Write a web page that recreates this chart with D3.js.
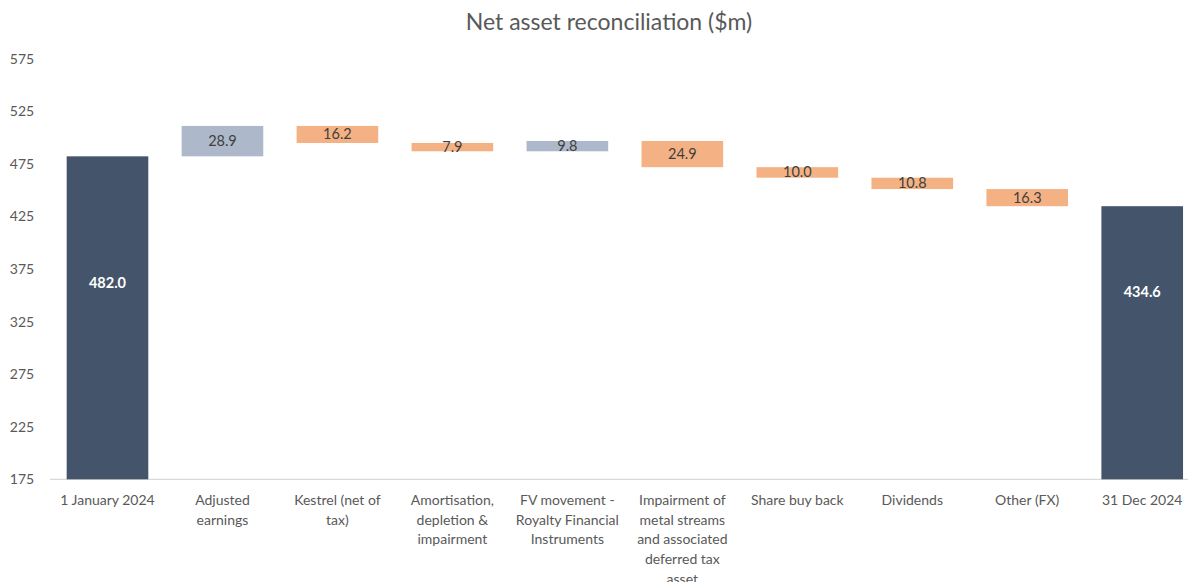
<!DOCTYPE html>
<html>
<head>
<meta charset="utf-8">
<script src="https://cdn.jsdelivr.net/npm/d3@7"></script>
<style>
  body { margin: 0; background: #fff; }
  svg { display: block; font-family: Lato, "Open Sans", sans-serif; }
</style>
</head>
<body>
<div id="chart"></div>
<script>
// waterfall steps: first and last are totals, the rest are changes
const categories = [
    ["1 January 2024"],
    ["Adjusted", "earnings"],
    ["Kestrel (net of", "tax)"],
    ["Amortisation,", "depletion &", "impairment"],
    ["FV movement -", "Royalty Financial", "Instruments"],
    ["Impairment of", "metal streams", "and associated", "deferred tax", "asset"],
    ["Share buy back"],
    ["Dividends"],
    ["Other (FX)"],
    ["31 Dec 2024"]
];
const values = [482.0, 28.9, -16.2, -7.9, 9.8, -24.9, -10.0, -10.8, -16.3, 434.6];
const kinds = ["total", "delta", "delta", "delta", "delta", "delta", "delta", "delta", "delta", "total"];
// where the total labels sit, in axis units
const totalLabelAt = { 0: 362, 9: 353 };
const yTicks = [175, 225, 275, 325, 375, 425, 475, 525, 575];

const width = 1188, height = 582;
const colors = { total: "#44546A", up: "#ADB9CA", down: "#F4B183" };

const svg = d3.select("#chart").append("svg")
    .attr("width", width)
    .attr("height", height);

svg.append("text")
    .attr("x", 609)
    .attr("y", 30)
    .attr("text-anchor", "middle")
    .style("font-size", "23px")
    .style("fill", "#595959")
    .text("Net asset reconciliation ($m)");

// build running totals
let running = 0;
const bars = values.map((v, i) => {
    let lo, hi;
    if (kinds[i] === "total") {
        lo = 175; hi = v; running = v;
    } else {
        const start = running;
        running = start + v;
        lo = Math.min(start, running);
        hi = Math.max(start, running);
    }
    return { i, v, lo, hi, kind: kinds[i] };
});

const x = d3.scaleBand()
    .domain(d3.range(categories.length))
    .range([50, 1199.7])
    .paddingInner(0.29)
    .paddingOuter(0.145);

const y = d3.scaleLinear()
    .domain([175, 575])
    .range([479.3, 58.5]);

// y tick labels
svg.append("g").selectAll("text")
    .data(yTicks)
    .enter().append("text")
    .attr("x", 22)
    .attr("y", d => y(d) + 5)
    .attr("text-anchor", "middle")
    .style("font-size", "14px")
    .style("fill", "#595959")
    .text(d => d);

// baseline
svg.append("line")
    .attr("x1", 50)
    .attr("x2", width)
    .attr("y1", y(175))
    .attr("y2", y(175))
    .attr("stroke", "#d9d9d9")
    .attr("stroke-width", 1.3);

svg.append("g").selectAll("rect")
    .data(bars)
    .enter().append("rect")
    .attr("x", d => x(d.i))
    .attr("width", x.bandwidth())
    .attr("y", d => y(d.hi))
    .attr("height", d => y(d.lo) - y(d.hi))
    .attr("fill", d => d.kind === "total" ? colors.total : (d.v > 0 ? colors.up : colors.down));

svg.append("g").selectAll("text")
    .data(bars)
    .enter().append("text")
    .attr("x", d => x(d.i) + x.bandwidth() / 2)
    .attr("y", d => (d.kind === "total" ? y(totalLabelAt[d.i]) : (y(d.lo) + y(d.hi)) / 2) + 5)
    .attr("text-anchor", "middle")
    .style("font-size", "14.5px")
    .style("font-weight", d => d.kind === "total" ? "bold" : "normal")
    .style("fill", d => d.kind === "total" ? "#ffffff" : "#404040")
    .text(d => Math.abs(d.v).toFixed(1));

// category labels
const cat = svg.append("g").selectAll("text")
    .data(categories)
    .enter().append("text")
    .attr("x", (d, i) => x(i) + x.bandwidth() / 2)
    .attr("y", 505)
    .attr("text-anchor", "middle")
    .style("font-size", "14px")
    .style("fill", "#595959");

cat.selectAll("tspan")
    .data(d => d)
    .enter().append("tspan")
    .attr("x", function() { return this.parentNode.getAttribute("x"); })
    .attr("dy", (d, j) => j === 0 ? 0 : 19.7)
    .text(d => d);
</script>
</body>
</html>
